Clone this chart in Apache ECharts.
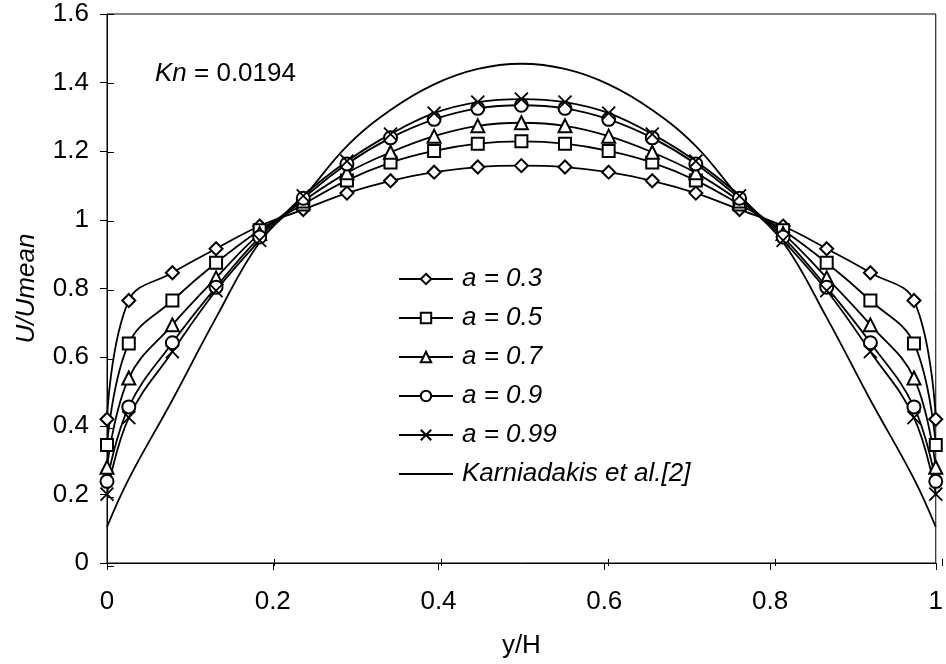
<!DOCTYPE html>
<html>
<head>
<meta charset="utf-8">
<script src="https://cdn.jsdelivr.net/npm/echarts@6/dist/echarts.min.js"></script>
<style>
    html, body { margin: 0; padding: 0; background: #fff; }
    #main { width: 946px; height: 664px; }
</style>
</head>
<body>
<div id="main"></div>
<script>
    // y/H positions (wall points + cell centres)
    var xs = [0, 0.0263, 0.0789, 0.1316, 0.1842, 0.2368, 0.2895, 0.3421, 0.3947, 0.4474, 0.5,
        0.5526, 0.6053, 0.6579, 0.7105, 0.7632, 0.8158, 0.8684, 0.9211, 0.9737, 1];

    // U/Umean
    var a03 = [0.419, 0.765, 0.846, 0.916, 0.982, 1.030, 1.078, 1.114, 1.139, 1.154, 1.158,
        1.154, 1.139, 1.114, 1.078, 1.030, 0.982, 0.916, 0.846, 0.765, 0.419];
    var a05 = [0.344, 0.640, 0.765, 0.875, 0.970, 1.045, 1.115, 1.167, 1.201, 1.222, 1.229,
        1.222, 1.201, 1.167, 1.115, 1.045, 0.970, 0.875, 0.765, 0.640, 0.344];
    var a07 = [0.279, 0.539, 0.694, 0.831, 0.960, 1.055, 1.137, 1.197, 1.244, 1.274, 1.283,
        1.274, 1.244, 1.197, 1.137, 1.055, 0.960, 0.831, 0.694, 0.539, 0.279];
    var a09 = [0.238, 0.455, 0.642, 0.804, 0.950, 1.063, 1.163, 1.239, 1.293, 1.325, 1.334,
        1.325, 1.293, 1.239, 1.163, 1.063, 0.950, 0.804, 0.642, 0.455, 0.238];
    var a099 = [0.201, 0.424, 0.616, 0.794, 0.940, 1.070, 1.171, 1.250, 1.311, 1.343, 1.352,
        1.343, 1.311, 1.250, 1.171, 1.070, 0.940, 0.794, 0.616, 0.424, 0.201];
    var karn = [0.105, 0.245, 0.475, 0.715, 0.935, 1.065, 1.215, 1.320, 1.395, 1.440, 1.455,
        1.440, 1.395, 1.320, 1.215, 1.065, 0.935, 0.715, 0.475, 0.245, 0.105];

    var names = ['a = 0.3', 'a = 0.5', 'a = 0.7', 'a = 0.9', 'a = 0.99', 'Karniadakis et al.[2]'];

    var FONT = 'Liberation Sans';
    var FS = 26;
    var crossPath = 'path://M0,0L10,10M10,0L0,10';

    function pairs(ys) {
        return xs.map(function (x, i) { return [x, ys[i]]; });
    }

    function markSeries(name, ys, symbol, size) {
        return {
            name: name,
            type: 'line',
            data: pairs(ys),
            smooth: 0.4,
            symbol: symbol,
            symbolSize: size,
            showAllSymbol: true,
            lineStyle: { color: '#000', width: 1.8 },
            itemStyle: { color: '#000', borderColor: '#000', borderWidth: 1.6 },
            emphasis: { disabled: true },
            z: 3
        };
    }

    var series = [
        markSeries(names[0], a03, 'emptyDiamond', 13),
        markSeries(names[1], a05, 'emptyRect', 12),
        markSeries(names[2], a07, 'emptyTriangle', 13),
        markSeries(names[3], a09, 'emptyCircle', 13),
        markSeries(names[4], a099, crossPath, 13),
        {
            name: names[5],
            type: 'line',
            data: pairs(karn),
            smooth: 0.4,
            symbol: 'none',
            lineStyle: { color: '#000', width: 1.8 },
            itemStyle: { color: '#000' },
            emphasis: { disabled: true },
            z: 2
        }
    ];
    series[4].itemStyle = { color: '#000', borderColor: '#000', borderWidth: 1.8 };

    // no marker on the Karniadakis legend entry
    var legendData = names.map(function (n, i) {
        if (i === 5) return { name: n, itemStyle: { opacity: 0 } };
        return { name: n };
    });

    var gridRect = { left: 107, right: 4, top: 14, bottom: 98 };

    var option = {
        animation: false,
        backgroundColor: '#fff',
        textStyle: { fontFamily: FONT },
        grid: [
            Object.assign({ show: true, borderColor: '#000', borderWidth: 1 }, gridRect),
            Object.assign({}, gridRect)
        ],
        legend: {
            data: legendData,
            orient: 'vertical',
            left: 393,
            top: 261,
            itemWidth: 54,
            itemHeight: 13,
            itemGap: 13,
            textStyle: { fontFamily: FONT, fontSize: FS, fontStyle: 'italic', color: '#000', padding: [0, 0, 0, 4] },
            selectedMode: false
        },
        xAxis: [
            {
                type: 'value', min: 0, max: 1, interval: 0.2, gridIndex: 0,
                name: 'y/H', nameLocation: 'middle', nameGap: 70,
                nameTextStyle: { fontFamily: FONT, fontSize: FS, color: '#000' },
                axisLine: { lineStyle: { color: '#000', width: 1 } },
                axisTick: { show: true, inside: false, length: 7, lineStyle: { color: '#000' } },
                axisLabel: { color: '#000', fontSize: FS, fontFamily: FONT, margin: 26 },
                splitLine: { show: false }
            },
            {
                type: 'value', min: 0, max: 1, interval: 0.2, gridIndex: 1, position: 'bottom',
                axisLine: { show: false },
                axisTick: { show: true, inside: true, length: 7, lineStyle: { color: '#000' } },
                axisLabel: { show: false },
                splitLine: { show: false }
            }
        ],
        yAxis: [
            {
                type: 'value', min: 0, max: 1.6, interval: 0.2, gridIndex: 0,
                name: 'U/Umean', nameLocation: 'middle', nameGap: 67,
                nameTextStyle: { fontFamily: FONT, fontSize: FS, fontStyle: 'italic', color: '#000' },
                axisLine: { show: true, lineStyle: { color: '#000', width: 1 } },
                axisTick: { show: true, inside: false, length: 7, lineStyle: { color: '#000' } },
                axisLabel: { color: '#000', fontSize: FS, fontFamily: FONT, margin: 18 },
                splitLine: { show: false }
            },
            {
                type: 'value', min: 0, max: 1.6, interval: 0.2, gridIndex: 1, position: 'left',
                axisLine: { show: false },
                axisTick: { show: true, inside: true, length: 7, lineStyle: { color: '#000' } },
                axisLabel: { show: false },
                splitLine: { show: false }
            }
        ],
        graphic: [
            {
                type: 'text',
                left: 155,
                top: 61,
                style: {
                    text: '{i|Kn} = 0.0194',
                    font: FS + 'px "' + FONT + '"',
                    fill: '#000',
                    rich: {
                        i: { fontStyle: 'italic', fontSize: FS, fontFamily: FONT }
                    }
                }
            }
        ],
        series: series
    };

    var chart = echarts.init(document.getElementById('main'));
    chart.setOption(option);
</script>
</body>
</html>
